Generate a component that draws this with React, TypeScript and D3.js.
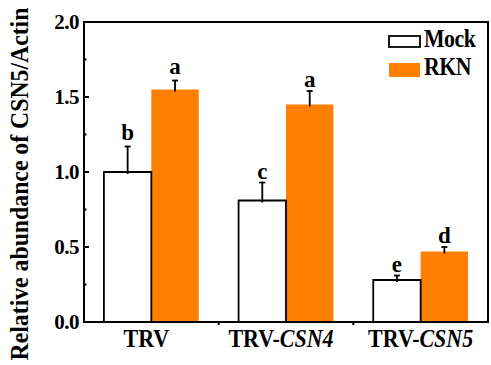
import * as d3 from 'd3'
import { useRef, useEffect } from 'react'

const groups = ['TRV', 'TRV-CSN4', 'TRV-CSN5']
const groupPrefix = ['TRV', 'TRV-', 'TRV-']
const groupItalic = ['', 'CSN4', 'CSN5']
const seriesNames = ['Mock', 'RKN']
const mockValues = [1.0, 0.81, 0.28]
const mockErrors = [0.17, 0.12, 0.03]
const rknValues = [1.55, 1.45, 0.47]
const rknErrors = [0.06, 0.09, 0.03]
const mockLetters = ['b', 'c', 'e']
const rknLetters = ['a', 'a', 'd']
const yTicks = [0, 0.5, 1.0, 1.5, 2.0]
const yMinorTicks = [0.25, 0.75, 1.25, 1.75]

const FONT = 'Liberation Serif'
const ORANGE = '#ff8000'

function App() {
    const svgRef = useRef()

    useEffect(() => {
        const width = 491
        const height = 365
        const margins = { left: 84, top: 22, right: 3, bottom: 43 }
        const svg = d3.select(svgRef.current)
            .attr('width', width)
            .attr('height', height)
            .style('font-family', FONT)
        svg.selectAll('*').remove()

        const scaleX = d3.scaleBand()
            .domain(groups)
            .range([margins.left, width - margins.right])
            .padding(0)
        const scaleInner = d3.scaleBand()
            .domain(seriesNames)
            .range([0, scaleX.bandwidth()])
            .paddingInner(0)
            .paddingOuter(0.42)
        const scaleY = d3.scaleLinear()
            .domain([0, 2])
            .range([height - margins.bottom, margins.top])

        const rows = groups.map((g, i) => [
            { g, s: 'Mock', v: mockValues[i], e: mockErrors[i], l: mockLetters[i] },
            { g, s: 'RKN', v: rknValues[i], e: rknErrors[i], l: rknLetters[i] }
        ]).flat()

        const gBars = svg.append('g')
        // orange bars first, mock outlined bars on top
        gBars.selectAll('.bar-rkn')
            .data(rows.filter(d => d.s === 'RKN'))
            .join('rect')
            .attr('x', d => scaleX(d.g) + scaleInner(d.s))
            .attr('y', d => scaleY(d.v))
            .attr('width', scaleInner.bandwidth())
            .attr('height', d => scaleY(0) - scaleY(d.v))
            .attr('fill', ORANGE)
        gBars.selectAll('.bar-mock')
            .data(rows.filter(d => d.s === 'Mock'))
            .join('path')
            .attr('d', d => {
                const x0 = scaleX(d.g) + scaleInner(d.s)
                const x1 = x0 + scaleInner.bandwidth()
                return `M${x0},${scaleY(0)}V${scaleY(d.v)}H${x1}V${scaleY(0)}`
            })
            .attr('fill', 'white')
            .attr('stroke', 'black')
            .attr('stroke-width', 1.8)

        // error bars (upper only) + significance letters
        const capW = 3
        rows.forEach(d => {
            const cx = scaleX(d.g) + scaleInner(d.s) + scaleInner.bandwidth() / 2
            gBars.append('line')
                .attr('x1', cx).attr('x2', cx)
                .attr('y1', scaleY(d.v) + 2).attr('y2', scaleY(d.v + d.e))
                .attr('stroke', 'black').attr('stroke-width', 1.8)
            gBars.append('line')
                .attr('x1', cx - capW).attr('x2', cx + capW)
                .attr('y1', scaleY(d.v + d.e)).attr('y2', scaleY(d.v + d.e))
                .attr('stroke', 'black').attr('stroke-width', 1.8)
            gBars.append('text')
                .attr('x', cx)
                .attr('y', scaleY(d.v + d.e) - (d.g === 'TRV' ? 7 : 4))
                .attr('text-anchor', 'middle')
                .attr('font-family', FONT)
                .attr('font-weight', 'bold')
                .attr('font-size', 23)
                .text(d.l)
        })

        // frame
        const x0 = margins.left
        const x1 = width - margins.right
        const y0 = margins.top
        const y1 = height - margins.bottom
        svg.append('rect')
            .attr('x', x0).attr('y', y0)
            .attr('width', x1 - x0).attr('height', y1 - y0)
            .attr('fill', 'none')
            .attr('stroke', 'black')
            .attr('stroke-width', 2)

        // y ticks
        svg.selectAll('.tick-major')
            .data(yTicks)
            .join('line')
            .attr('x1', x0).attr('x2', x0 + 5)
            .attr('y1', d => scaleY(d)).attr('y2', d => scaleY(d))
            .attr('stroke', 'black').attr('stroke-width', 2)
        svg.selectAll('.tick-minor')
            .data(yMinorTicks)
            .join('line')
            .attr('x1', x0).attr('x2', x0 + 2.5)
            .attr('y1', d => scaleY(d)).attr('y2', d => scaleY(d))
            .attr('stroke', 'black').attr('stroke-width', 2)
        svg.selectAll('.tick-label')
            .data(yTicks)
            .join('text')
            .attr('x', x0 - 5)
            .attr('y', d => scaleY(d))
            .attr('dy', '0.35em')
            .attr('text-anchor', 'end')
            .attr('font-family', FONT)
            .attr('font-weight', 'bold')
            .attr('font-size', 21)
            .attr('letter-spacing', -0.5)
            .text(d => d3.format('.1f')(d))

        // x group ticks
        svg.selectAll('.tick-x')
            .data(groups.slice(1))
            .join('line')
            .attr('x1', d => scaleX(d)).attr('x2', d => scaleX(d))
            .attr('y1', y1).attr('y2', y1 + 3)
            .attr('stroke', 'black').attr('stroke-width', 2)

        // x labels
        groups.forEach((g, i) => {
            const t = svg.append('text')
                .attr('transform', `translate(${scaleX(g) + scaleX.bandwidth() / 2 - (i < 2 ? 5 : 0)},${y1 + 25}) scale(0.88,1)`)
                .attr('text-anchor', 'middle')
                .attr('font-family', FONT)
                .attr('font-weight', 'bold')
                .attr('font-size', 25)
            t.append('tspan').text(groupPrefix[i])
            if (groupItalic[i]) t.append('tspan').attr('font-style', 'italic').text(groupItalic[i])
        })

        // y title
        svg.append('text')
            .attr('transform', `translate(28,${(y0 + y1) / 2 + 12}) rotate(-90) scale(0.95,1)`)
            .attr('text-anchor', 'middle')
            .attr('font-family', FONT)
            .attr('font-weight', 'bold')
            .attr('font-size', 25)
            .text('Relative abundance of CSN5/Actin')

        // legend
        const gLegend = svg.append('g')
        seriesNames.forEach((s, i) => {
            const ly = [36, 63][i]
            gLegend.append('rect')
                .attr('x', 389).attr('y', ly)
                .attr('width', 31).attr('height', i === 0 ? 11 : 14)
                .attr('fill', s === 'Mock' ? 'white' : ORANGE)
                .attr('stroke', s === 'Mock' ? 'black' : 'none')
                .attr('stroke-width', 1.8)
            gLegend.append('text')
                .attr('transform', `translate(424,${[46.5, 75][i]}) scale(0.87,1)`)
                .attr('font-family', FONT)
                .attr('font-weight', 'bold')
                .attr('font-size', 25)
                .attr('letter-spacing', -0.5)
                .text(s)
        })
    }, [])

    return (
        <div style={{ position: 'absolute', left: 0, top: 0 }}>
            <svg ref={svgRef} style={{ display: 'block', background: 'white' }}></svg>
        </div>
    )
}

export default App
